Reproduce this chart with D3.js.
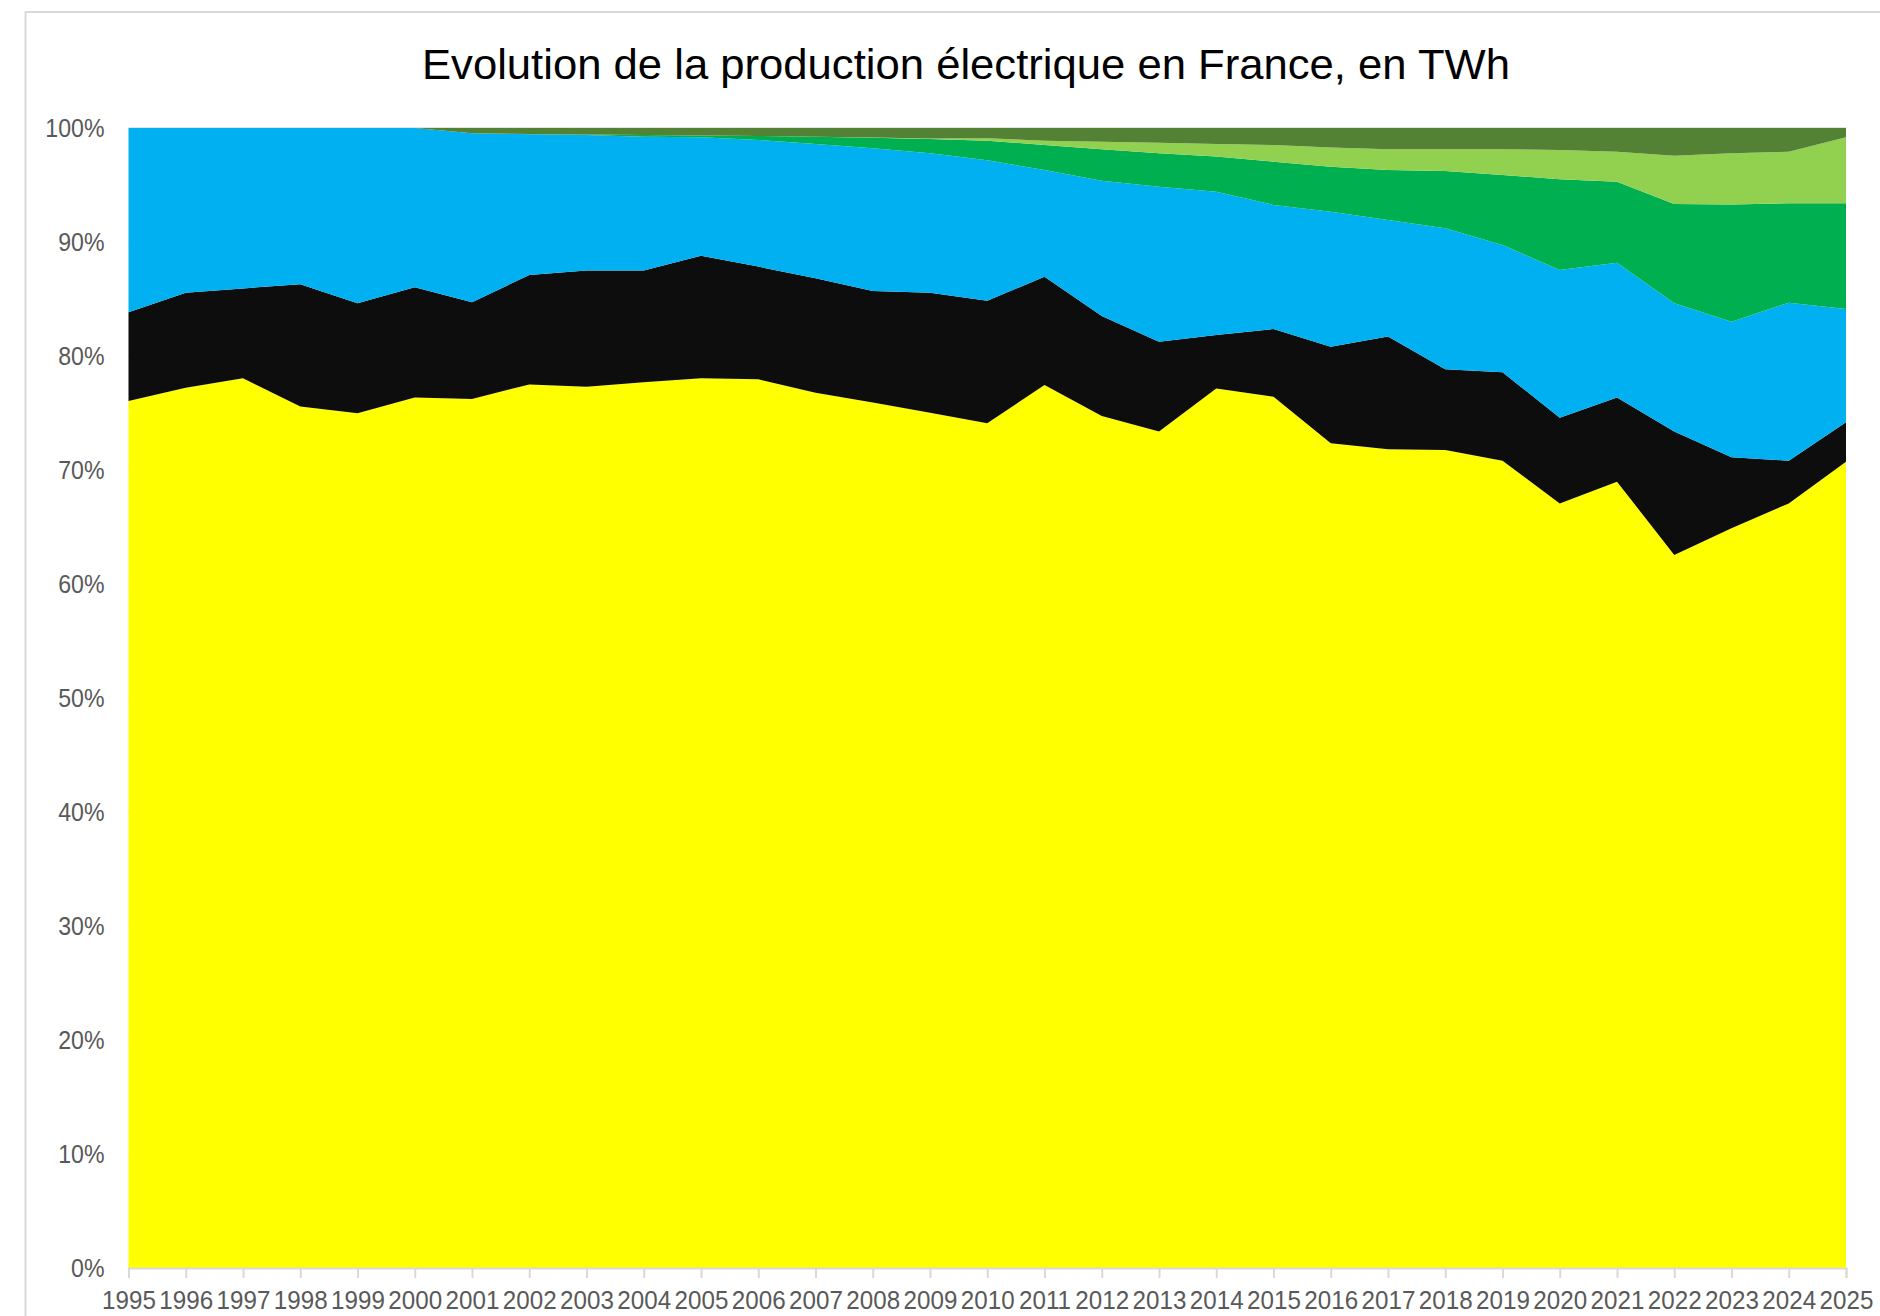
<!DOCTYPE html>
<html>
<head>
<meta charset="utf-8">
<script src="https://cdn.jsdelivr.net/npm/d3@7"></script>
<style>
  body { margin: 0; background: #fff; }
  svg { display: block; }
</style>
</head>
<body>
<script>
// parts de la production (en %)
var years = d3.range(1995, 2026);
var nucleaire = [76.05, 77.22, 78.04, 75.56, 74.97, 76.37, 76.23, 77.51, 77.31, 77.69, 78.04, 77.95, 76.78, 75.93, 75.03, 74.09, 77.46, 74.74, 73.37, 77.14, 76.43, 72.34, 71.81, 71.75, 70.82, 67.07, 68.98, 62.54, 64.88, 67.07, 70.73];
var fossile = [7.78, 8.33, 7.89, 10.73, 9.65, 9.65, 8.48, 9.60, 10.18, 9.80, 10.76, 9.89, 10.03, 9.77, 10.52, 10.76, 9.50, 8.77, 7.89, 4.70, 5.94, 8.48, 9.89, 7.08, 7.75, 7.52, 7.37, 10.83, 6.23, 3.75, 3.45];
var hydraulique = [16.17, 14.45, 14.07, 13.71, 15.38, 13.98, 14.84, 12.34, 11.90, 11.75, 10.38, 11.11, 11.79, 12.52, 12.23, 12.32, 9.36, 11.87, 13.59, 12.57, 10.88, 11.84, 10.23, 12.37, 11.17, 12.95, 11.84, 11.25, 11.90, 13.86, 9.94];
var eolien = [0, 0, 0, 0, 0, 0, 0, 0.03, 0.05, 0.14, 0.17, 0.35, 0.63, 0.93, 1.25, 1.72, 2.19, 2.75, 2.93, 3.08, 3.80, 3.95, 4.39, 5.03, 6.14, 7.96, 7.10, 8.71, 10.29, 8.71, 9.27];
var solaire = [0, 0, 0, 0, 0, 0, 0, 0, 0, 0, 0, 0, 0, 0.01, 0.05, 0.20, 0.38, 0.67, 0.93, 1.11, 1.46, 1.69, 1.81, 1.90, 2.25, 2.57, 2.63, 4.24, 4.48, 4.53, 5.79];
var bioenergies = [0, 0, 0, 0, 0, 0, 0.45, 0.52, 0.56, 0.62, 0.65, 0.70, 0.77, 0.84, 0.92, 0.91, 1.11, 1.20, 1.29, 1.40, 1.49, 1.70, 1.87, 1.87, 1.87, 1.93, 2.08, 2.43, 2.22, 2.08, 0.82];
var yTicks = [0, 0.1, 0.2, 0.3, 0.4, 0.5, 0.6, 0.7, 0.8, 0.9, 1];

var keys = ["nucleaire", "fossile", "hydraulique", "eolien", "solaire", "bioenergies"];
var colors = { nucleaire: "#FFFF00", fossile: "#0D0D0D", hydraulique: "#00B0F0", eolien: "#00B050", solaire: "#92D050", bioenergies: "#548235" };

var rows = years.map(function (y, i) {
    return {
        year: y,
        nucleaire: nucleaire[i],
        fossile: fossile[i],
        hydraulique: hydraulique[i],
        eolien: eolien[i],
        solaire: solaire[i],
        bioenergies: bioenergies[i]
    };
});

var W = 1880, H = 1316;
var margin = { top: 128, right: 34, bottom: 48, left: 128.5 };
var font = "'Liberation Sans', Arial, sans-serif";

var svg = d3.select("body").append("svg")
    .attr("width", W)
    .attr("height", H);

// cadre du graphique
svg.append("rect")
    .attr("x", 25.5).attr("y", 12)
    .attr("width", W).attr("height", H)
    .attr("fill", "#fff")
    .attr("stroke", "#d9d9d9")
    .attr("stroke-width", 2);

svg.append("text")
    .attr("x", 966)
    .attr("y", 79)
    .attr("text-anchor", "middle")
    .attr("font-family", font)
    .attr("font-size", 43)
    .attr("fill", "#000")
    .attr("textLength", 1088)
    .attr("lengthAdjust", "spacingAndGlyphs")
    .text("Evolution de la production électrique en France, en TWh");

var x = d3.scaleLinear().domain([1995, 2025]).range([margin.left, W - margin.right]);
var y = d3.scaleLinear().domain([0, 1]).range([H - margin.bottom, margin.top]);

// quadrillage
svg.append("g")
    .selectAll("line")
    .data(yTicks)
    .enter().append("line")
    .attr("x1", x(1995)).attr("x2", x(2025))
    .attr("y1", function (d) { return y(d); })
    .attr("y2", function (d) { return y(d); })
    .attr("stroke", "#d9d9d9")
    .attr("stroke-width", 1.5);

var stack = d3.stack().keys(keys).offset(d3.stackOffsetExpand);
var series = stack(rows);

var area = d3.area()
    .x(function (d) { return x(d.data.year); })
    .y0(function (d) { return y(d[0]); })
    .y1(function (d) { return y(d[1]); });

svg.append("g")
    .selectAll("path")
    .data(series)
    .enter().append("path")
    .attr("d", area)
    .attr("fill", function (d) { return colors[d.key]; });

// texte plus étroit, façon Calibri
function narrow(sel, k) {
    sel.each(function () {
        var len = this.getComputedTextLength();
        d3.select(this).attr("textLength", len * k).attr("lengthAdjust", "spacingAndGlyphs");
    });
}

// axe des x
var xAxis = svg.append("g")
    .attr("transform", "translate(0," + y(0) + ")")
    .call(d3.axisBottom(x).tickValues(years).tickFormat(d3.format("d")).tickSize(10).tickPadding(13));
xAxis.select(".domain").attr("stroke", "#d9d9d9").attr("stroke-width", 2);
xAxis.selectAll(".tick line").attr("stroke", "#d9d9d9").attr("stroke-width", 2);
xAxis.selectAll("text")
    .attr("fill", "#595959")
    .attr("font-family", font)
    .attr("font-size", 26)
    .call(narrow, 0.93);

// axe des y
var yAxis = svg.append("g")
    .attr("transform", "translate(" + (margin.left - 24) + ",0)")
    .call(d3.axisLeft(y).tickValues(yTicks).tickFormat(d3.format(".0%")).tickSize(0).tickPadding(0));
yAxis.select(".domain").remove();
yAxis.selectAll("text")
    .attr("fill", "#595959")
    .attr("font-family", font)
    .attr("font-size", 26)
    .call(narrow, 0.89);
</script>
</body>
</html>
